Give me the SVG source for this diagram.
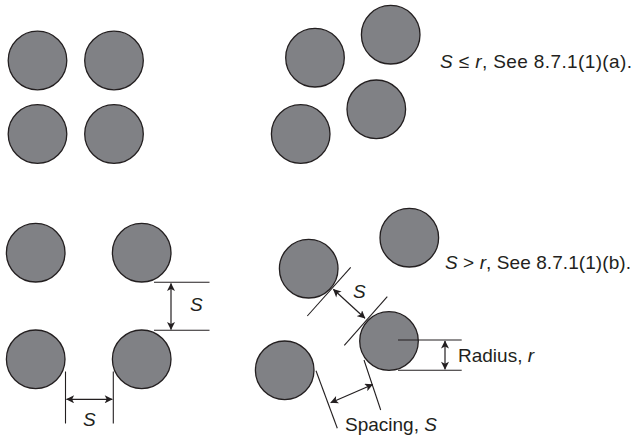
<svg xmlns="http://www.w3.org/2000/svg" width="638" height="436" viewBox="0 0 638 436">
<defs>
<marker id="ah" viewBox="0 0 10 10" refX="9.5" refY="5" markerWidth="9" markerHeight="8" markerUnits="userSpaceOnUse" orient="auto-start-reverse">
<path d="M0,0 L10,5 L0,10 L2.5,5 Z" fill="#231f20"/>
</marker>
</defs>
<style>
.c{fill:#808185;stroke:#231f20;stroke-width:1.3}
.l{stroke:#231f20;stroke-width:1.1;fill:none}
.a{stroke:#231f20;stroke-width:1.2;fill:none;marker-start:url(#ah);marker-end:url(#ah)}
.t{font-family:"Liberation Sans",Arial,sans-serif;font-size:19px;fill:#231f20}
.i{font-style:italic}
</style>
<rect width="638" height="436" fill="#fff"/>
<g id="group-a-square">
<circle class="c" cx="37.5" cy="60.5" r="29.3"/>
<circle class="c" cx="114" cy="60.5" r="29.3"/>
<circle class="c" cx="37.5" cy="134" r="29.3"/>
<circle class="c" cx="114" cy="134" r="29.3"/>
</g>
<g id="group-a-stagger">
<circle class="c" cx="315" cy="57.7" r="29.3"/>
<circle class="c" cx="390.7" cy="34.7" r="29.3"/>
<circle class="c" cx="376.3" cy="109.3" r="29.3"/>
<circle class="c" cx="300.7" cy="134" r="29.3"/>
</g>
<g id="label-a"><text class="t" x="440" y="68" textLength="192"><tspan class="i">S</tspan> ≤ <tspan class="i">r</tspan>, See 8.7.1(1)(a).</text></g>
<g id="group-b-square">
<circle class="c" cx="35.7" cy="252.7" r="29.3"/>
<circle class="c" cx="141.7" cy="252.7" r="29.3"/>
<circle class="c" cx="35.7" cy="359.3" r="29.3"/>
<circle class="c" cx="141.7" cy="359.3" r="29.3"/>
</g>
<g id="group-b-stagger">
<circle class="c" cx="409.3" cy="237.7" r="29.3"/>
<circle class="c" cx="308.7" cy="268.7" r="29.3"/>
<circle class="c" cx="389" cy="341" r="29.3"/>
<circle class="c" cx="284.7" cy="370.3" r="29.3"/>
</g>
<g id="connectors">
<line class="l" x1="154" y1="282.3" x2="209.5" y2="282.3"/>
<line class="l" x1="154" y1="330.3" x2="209.5" y2="330.3"/>
<line class="a" x1="171" y1="283.5" x2="171" y2="329.5"/>
<line class="l" x1="65.5" y1="371.5" x2="65.5" y2="423.5"/>
<line class="l" x1="113.3" y1="371.5" x2="113.3" y2="423.5"/>
<line class="a" x1="66.5" y1="399.3" x2="112.3" y2="399.3"/>
<line class="l" x1="307.3" y1="316" x2="350.7" y2="267.3"/>
<line class="l" x1="344.3" y1="345.3" x2="387.3" y2="296.7"/>
<line class="a" x1="333.3" y1="289.3" x2="365" y2="318.3"/>
<line class="l" x1="316" y1="370.7" x2="337.3" y2="428.3"/>
<line class="l" x1="364" y1="360" x2="380.7" y2="410"/>
<line class="a" x1="330.7" y1="402.7" x2="372.7" y2="384.5"/>
<line class="l" x1="398" y1="340" x2="461.7" y2="340"/>
<line class="l" x1="398" y1="370.3" x2="461.7" y2="370.3"/>
<line class="a" x1="445" y1="341" x2="445" y2="369.3"/>
</g>
<g id="labels">
<text class="t i" x="190" y="311">S</text>
<text class="t i" x="83" y="426">S</text>
<text class="t i" x="353" y="298">S</text>
<text class="t" x="445" y="269" textLength="186"><tspan class="i">S</tspan> &gt; <tspan class="i">r</tspan>, See 8.7.1(1)(b).</text>
<text class="t" x="458" y="362">Radius, <tspan class="i">r</tspan></text>
<text class="t" x="345" y="431">Spacing, <tspan class="i">S</tspan></text>
</g>
</svg>
